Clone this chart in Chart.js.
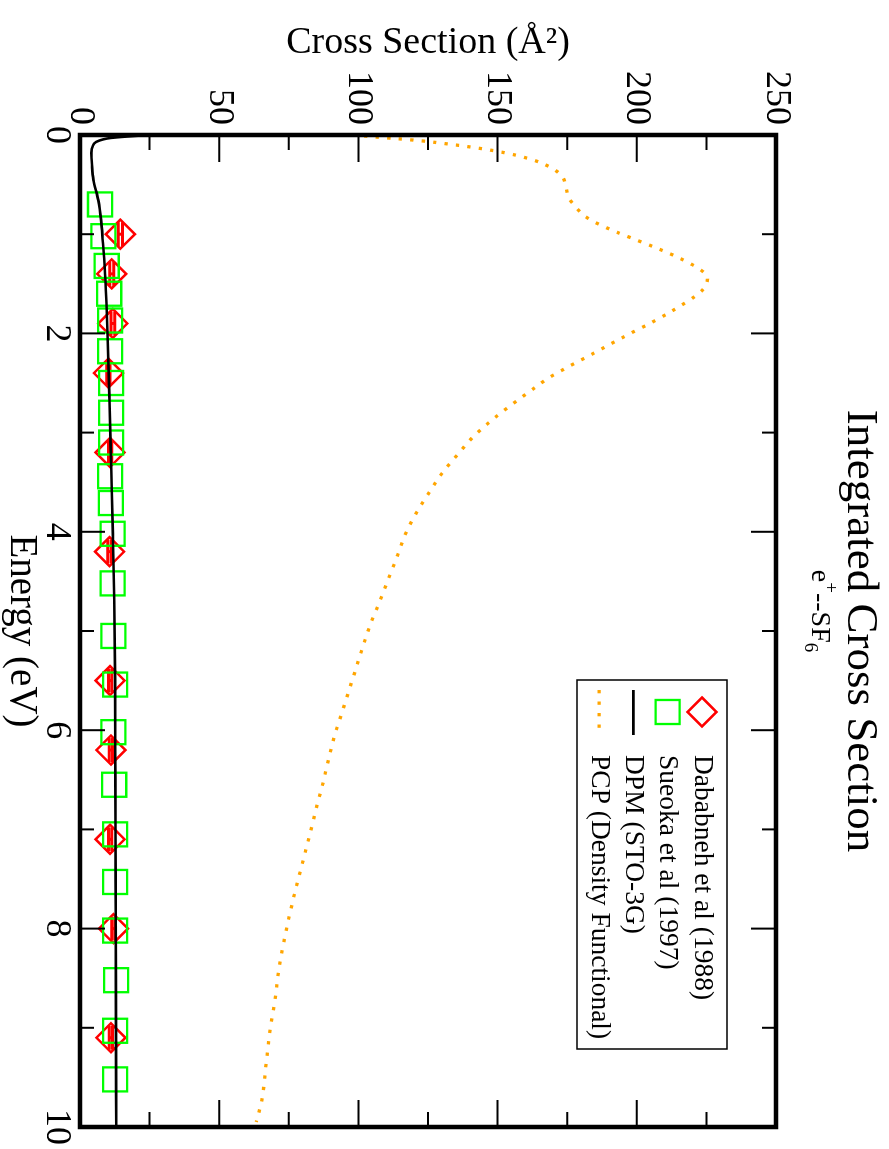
<!DOCTYPE html>
<html>
<head>
<meta charset="utf-8">
<script src="https://cdn.jsdelivr.net/npm/chart.js@4.4.1/dist/chart.umd.min.js"></script>
<style>
  html, body { margin: 0; padding: 0; background: #fff; overflow: hidden; }
  /* the plot is drawn landscape and turned a quarter clockwise */
  #wrap { position: absolute; left: 0; top: 0; width: 1149px; height: 889px;
          transform-origin: 0 0; transform: translate(889px, 0) rotate(90deg); }
</style>
</head>
<body>
<div id="wrap"><canvas id="chart" width="1149" height="889"></canvas></div>
<script>
// Energy in eV, cross section in Å^2
const dababnehE     = [1.0, 1.4, 1.9, 2.4, 3.2, 4.2, 5.5, 6.2, 7.1, 8.0, 9.1];
const dababnehSigma = [14.5, 11.4, 11.8, 10.2, 10.8, 10.6, 10.8, 11.1, 10.8, 12.0, 11.1];
const dababnehErr   = [0.8, 0.7, 0.7, 0.6, 0.6, 0.6, 0.6, 0.6, 0.6, 0.6, 0.6];

const sueokaE     = [0.7, 1.02, 1.32, 1.6, 1.87, 2.18, 2.5, 2.8, 3.1, 3.44, 3.71, 4.02, 4.52, 5.05, 5.54, 6.02, 6.55, 7.05, 7.53, 8.02, 8.52, 9.03, 9.52];
const sueokaSigma = [7.2, 8.4, 9.6, 10.5, 10.8, 10.8, 11.2, 11.2, 11.2, 10.8, 11.1, 11.7, 11.7, 12.0, 12.6, 12.0, 12.3, 12.6, 12.6, 12.6, 13.0, 12.6, 12.6];

const dpmE     = [0, 0.015, 0.03, 0.045, 0.07, 0.11, 0.18, 0.3, 0.45, 0.66, 0.86, 1.07, 1.34, 1.7, 2.0, 2.68, 3.35, 4.02, 4.69, 5.5, 6.5, 7.5, 8.5, 10];
const dpmSigma = [24.5, 17, 11, 8.2, 5.8, 4.6, 4.1, 4.3, 4.8, 6.6, 7.6, 8.2, 8.9, 9.5, 9.9, 10.6, 11.2, 11.8, 12.3, 12.6, 12.7, 12.8, 12.9, 13.0];

const pcpE     = [0, 0.02, 0.04, 0.06, 0.09, 0.12, 0.16, 0.21, 0.28, 0.4, 0.52, 0.63, 0.73, 0.81, 0.88, 0.97, 1.06, 1.15, 1.25, 1.37, 1.45, 1.55, 1.63, 1.76, 1.88, 1.99, 2.1, 2.22, 2.33, 2.45, 2.59, 2.73, 2.88, 3.04, 3.22, 3.4, 3.6, 3.8, 4.01, 4.25, 4.48, 4.7, 4.92, 5.15, 5.38, 5.6, 5.83, 6.06, 6.29, 6.53, 6.76, 6.99, 7.23, 7.46, 7.69, 8.0, 8.4, 8.75, 9.0, 9.35, 9.73, 9.95];
const pcpSigma = [98, 106, 115, 123, 132, 140, 149, 157.5, 165.5, 172.7, 174.5, 175.5, 178.2, 181, 185, 192, 200, 208, 216, 223.4, 225.4, 224, 220.7, 213.5, 206, 198.4, 191, 183.2, 175.8, 168.3, 161.3, 154.5, 147.7, 141.3, 135.7, 130.3, 125.5, 121, 117.1, 113.9, 110.7, 107.7, 104.5, 101.7, 99.1, 96.6, 94, 91.4, 89.3, 87.3, 85.1, 83.1, 80.9, 78.8, 76.7, 74.2, 71.5, 69.9, 68.4, 66.9, 65.3, 63.3];

const legendLabels = ['Dababneh et al (1988)', 'Sueoka et al (1997)', 'DPM (STO-3G)', 'PCP (Density Functional)'];
// subtitle pieces: [text, shift] where shift is 'sup', 'sub' or ''
const subtitleParts = [['e', ''], ['+', 'sup'], ['--SF', ''], ['6', 'sub']];

const FONT = "'Liberation Serif', 'Times New Roman', serif";

function toPoints(xs, ys) {
  return xs.map((x, i) => ({x: x, y: ys[i]}));
}

// e+--SF6 under the title, with real super/subscripts
const subtitleText = {
  id: 'subtitleText',
  afterDraw(chart) {
    const ctx = chart.ctx;
    const big = 28, small = 19, base = 77;
    ctx.save();
    ctx.fillStyle = '#000';
    ctx.textBaseline = 'alphabetic';
    let total = 0;
    const widths = subtitleParts.map(([t, s]) => {
      ctx.font = (s ? small : big) + 'px ' + FONT;
      const w = ctx.measureText(t).width;
      total += w;
      return w;
    });
    let x = 611 - total / 2;
    subtitleParts.forEach(([t, s], i) => {
      ctx.font = (s ? small : big) + 'px ' + FONT;
      const y = s === 'sup' ? base - 13 : s === 'sub' ? base + 7 : base;
      ctx.fillText(t, x, y);
      x += widths[i];
    });
    ctx.restore();
  }
};

// error bars on the Dababneh points
const errorBars = {
  id: 'errorBars',
  afterDatasetDraw(chart, args) {
    if (args.index !== 0) return;
    const ctx = chart.ctx, x = chart.scales.x, y = chart.scales.y;
    ctx.save();
    ctx.strokeStyle = '#ff0000';
    ctx.lineWidth = 3;
    dababnehE.forEach((e, i) => {
      const px = x.getPixelForValue(e);
      const lo = y.getPixelForValue(dababnehSigma[i] - dababnehErr[i]);
      const hi = y.getPixelForValue(dababnehSigma[i] + dababnehErr[i]);
      ctx.beginPath();
      ctx.moveTo(px, lo); ctx.lineTo(px, hi);
      ctx.moveTo(px - 12, lo); ctx.lineTo(px + 12, lo);
      ctx.moveTo(px - 12, hi); ctx.lineTo(px + 12, hi);
      ctx.stroke();
    });
    ctx.restore();
  }
};

// thick frame with inward major/minor ticks on all four sides
const frameTicks = {
  id: 'frameTicks',
  afterDatasetsDraw(chart) {
    const ctx = chart.ctx, a = chart.chartArea, x = chart.scales.x, y = chart.scales.y;
    ctx.save();
    ctx.strokeStyle = '#000';
    ctx.lineWidth = 2;
    ctx.beginPath();
    for (let v = 0; v <= 10; v += 1) {
      const p = x.getPixelForValue(v);
      const len = v % 2 === 0 ? 25 : 14;
      ctx.moveTo(p, a.bottom); ctx.lineTo(p, a.bottom - len);
      ctx.moveTo(p, a.top); ctx.lineTo(p, a.top + len);
    }
    for (let v = 0; v <= 250; v += 25) {
      const p = y.getPixelForValue(v);
      const len = v % 50 === 0 ? 27 : 15;
      ctx.moveTo(a.left, p); ctx.lineTo(a.left + len, p);
      ctx.moveTo(a.right, p); ctx.lineTo(a.right - len, p);
    }
    ctx.stroke();
    ctx.lineWidth = 4.5;
    ctx.strokeRect(a.left, a.top, a.right - a.left, a.bottom - a.top);
    ctx.restore();
  }
};

// boxed legend inside the plot
const boxLegend = {
  id: 'boxLegend',
  afterDraw(chart) {
    const ctx = chart.ctx;
    const left = 680, top = 162, w = 369, h = 150, rowH = 34.3;
    ctx.save();
    ctx.lineWidth = 1.5;
    ctx.strokeStyle = '#000';
    ctx.strokeRect(left, top, w, h);
    ctx.font = '27.5px ' + FONT;
    ctx.textBaseline = 'middle';
    chart.data.datasets.forEach((ds, i) => {
      const cy = top + 25 + i * rowH, cx = 712;
      ctx.strokeStyle = ds.borderColor;
      ctx.lineWidth = ds.borderWidth;
      ctx.beginPath();
      if (ds.showLine) {
        ctx.setLineDash(ds.borderDash || []);
        ctx.moveTo(690, cy); ctx.lineTo(735, cy);
      } else if (ds.pointStyle === 'rectRot') {
        const r = ds.pointRadius;
        ctx.moveTo(cx - r, cy); ctx.lineTo(cx, cy - r); ctx.lineTo(cx + r, cy); ctx.lineTo(cx, cy + r);
        ctx.closePath();
      } else {
        const s = ds.pointRadius * Math.SQRT1_2;
        ctx.rect(cx - s, cy - s, 2 * s, 2 * s);
      }
      ctx.stroke();
      ctx.setLineDash([]);
      ctx.fillStyle = '#000';
      ctx.fillText(ds.label, 755, cy);
    });
    ctx.restore();
  }
};

new Chart(document.getElementById('chart'), {
  type: 'scatter',
  data: {
    datasets: [{
      label: legendLabels[0],
      data: toPoints(dababnehE, dababnehSigma),
      pointStyle: 'rectRot',
      pointRadius: 14.5,
      borderColor: '#ff0000',
      backgroundColor: 'rgba(0,0,0,0)',
      borderWidth: 2.5,
      order: 4
    }, {
      label: legendLabels[1],
      data: toPoints(sueokaE, sueokaSigma),
      pointStyle: 'rect',
      pointRadius: 17,
      borderColor: '#00ff00',
      backgroundColor: 'rgba(0,0,0,0)',
      borderWidth: 2.3,
      order: 3
    }, {
      label: legendLabels[2],
      data: toPoints(dpmE, dpmSigma),
      showLine: true,
      pointRadius: 0,
      borderColor: '#000000',
      borderWidth: 2.6,
      cubicInterpolationMode: 'monotone',
      order: 2
    }, {
      label: legendLabels[3],
      data: toPoints(pcpE, pcpSigma),
      showLine: true,
      pointRadius: 0,
      borderColor: '#ffa500',
      borderWidth: 3.3,
      borderDash: [3.3, 8.2],
      cubicInterpolationMode: 'monotone',
      order: 1
    }]
  },
  options: {
    responsive: false,
    animation: false,
    layout: { padding: { left: 0, right: 22, top: 0, bottom: 0 } },
    plugins: {
      legend: { display: false },
      tooltip: { enabled: false },
      title: {
        display: true,
        text: 'Integrated Cross Section',
        color: '#000',
        fullSize: false,
        font: { family: FONT, size: 45, weight: 'normal', lineHeight: 1.2 },
        padding: { top: 2, bottom: 57 }
      }
    },
    scales: {
      x: {
        type: 'linear',
        min: 0,
        max: 10,
        afterFit: (s) => { s.height = 80; },
        grid: { display: false, drawTicks: false },
        border: { display: false },
        ticks: { stepSize: 2, maxRotation: 0, padding: 2, color: '#000', font: { family: FONT, size: 36 } },
        title: { display: true, text: 'Energy (eV)', color: '#000', padding: { top: 0, bottom: 0 },
                 font: { family: FONT, size: 39, lineHeight: 1.1 } }
      },
      y: {
        type: 'linear',
        min: 0,
        max: 250,
        afterFit: (s) => { s.width = 135; },
        grid: { display: false, drawTicks: false },
        border: { display: false },
        ticks: { stepSize: 50, padding: 10, color: '#000', font: { family: FONT, size: 36 } },
        title: { display: true, text: 'Cross Section (Å²)', color: '#000', padding: { top: 20, bottom: 0 },
                 font: { family: FONT, size: 38, lineHeight: 1.2 } }
      }
    }
  },
  plugins: [errorBars, frameTicks, boxLegend, subtitleText]
});
</script>
</body>
</html>
